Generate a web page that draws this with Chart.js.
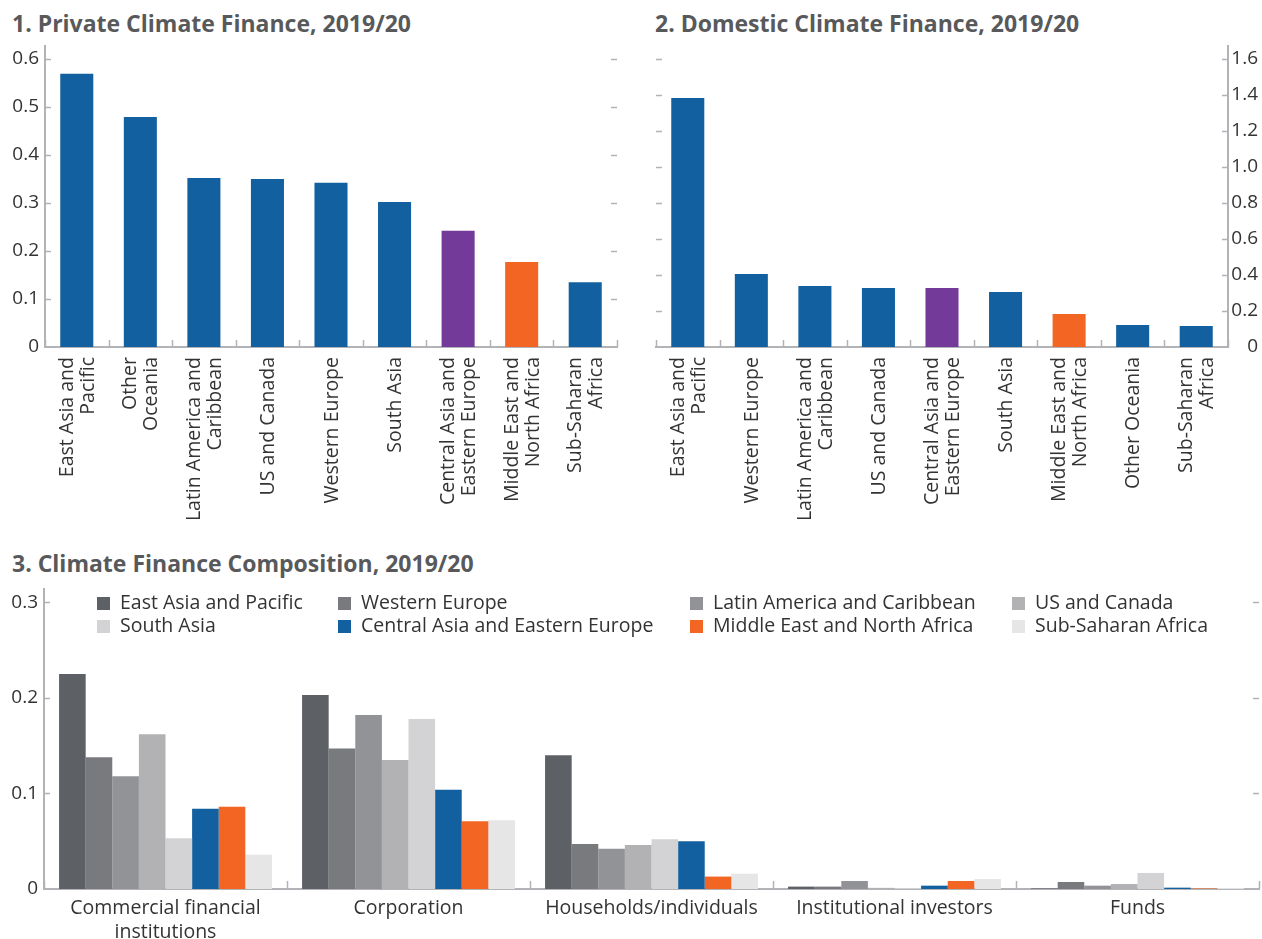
<!DOCTYPE html>
<html>
<head>
<meta charset="utf-8">
<title>Climate Finance, 2019/20</title>
<script src="https://cdn.jsdelivr.net/npm/chart.js@4.4.1/dist/chart.umd.min.js"></script>
<style>
    body { margin: 0; width: 1262px; height: 939px; background: #fff; font-family: "Open Sans", sans-serif; position: relative; overflow: hidden; }
    .title { position: absolute; font-weight: 700; font-size: 23px; line-height: 23px; color: #58595b; white-space: nowrap; }
    .panel { position: absolute; }
    #legend { position: absolute; left: 97px; top: 590px; display: grid; grid-template-columns: 241px 352px 322px auto; font-size: 19.5px; line-height: 23px; color: #333; }
    #legend span.sw { display: inline-block; width: 13px; height: 13px; margin-right: 10px; vertical-align: -1px; }
</style>
</head>
<body>
<div class="title" style="left:12px; top:12px;">1. Private Climate Finance, 2019/20</div>
<div class="title" style="left:655px; top:12px;">2. Domestic Climate Finance, 2019/20</div>
<div class="title" style="left:12px; top:552px;">3. Climate Finance Composition, 2019/20</div>

<div class="panel" style="left:0; top:40px; width:630px; height:500px;"><canvas id="privateChart" width="630" height="500"></canvas></div>
<div class="panel" style="left:640px; top:40px; width:622px; height:500px;"><canvas id="domesticChart" width="622" height="500"></canvas></div>
<div class="panel" style="left:0; top:580px; width:1262px; height:359px;"><canvas id="compositionChart" width="1262" height="359"></canvas></div>
<div id="legend"></div>

<script>
    // Panel 1: private climate finance by region
    const privateRegions = [['East Asia and', 'Pacific'], ['Other', 'Oceania'], ['Latin America and', 'Caribbean'], 'US and Canada',
        'Western Europe', 'South Asia', ['Central Asia and', 'Eastern Europe'], ['Middle East and', 'North Africa'], ['Sub-Saharan', 'Africa']];
    const privateValues = [0.569, 0.479, 0.352, 0.350, 0.342, 0.302, 0.242, 0.177, 0.135];
    const privateTicks = [0, 0.1, 0.2, 0.3, 0.4, 0.5, 0.6];

    // Panel 2: domestic climate finance by region
    const domesticRegions = [['East Asia and', 'Pacific'], 'Western Europe', ['Latin America and', 'Caribbean'], 'US and Canada',
        ['Central Asia and', 'Eastern Europe'], 'South Asia', ['Middle East and', 'North Africa'], 'Other Oceania', ['Sub-Saharan', 'Africa']];
    const domesticValues = [1.383, 0.405, 0.339, 0.328, 0.328, 0.306, 0.183, 0.122, 0.117];
    const domesticTicks = [0, 0.2, 0.4, 0.6, 0.8, 1.0, 1.2, 1.4, 1.6];

    // Panel 3: composition by source, one series per region
    const sources = [['Commercial financial', 'institutions'], 'Corporation', 'Households/individuals', 'Institutional investors', 'Funds'];
    const compositionRegions = ['East Asia and Pacific', 'Western Europe', 'Latin America and Caribbean', 'US and Canada',
        'South Asia', 'Central Asia and Eastern Europe', 'Middle East and North Africa', 'Sub-Saharan Africa'];
    const eastAsiaPacific = [0.225, 0.203, 0.140, 0.0025, 0.0006];
    const westernEurope = [0.138, 0.147, 0.047, 0.0025, 0.0073];
    const latinAmericaCaribbean = [0.118, 0.182, 0.042, 0.0084, 0.0035];
    const usCanada = [0.162, 0.135, 0.046, 0.0012, 0.0052];
    const southAsia = [0.053, 0.178, 0.052, 0.0010, 0.0168];
    const centralAsiaEasternEurope = [0.084, 0.104, 0.050, 0.0035, 0.0014];
    const middleEastNorthAfrica = [0.086, 0.071, 0.013, 0.0084, 0.0005];
    const subSaharanAfrica = [0.036, 0.072, 0.016, 0.0105, 0.0010];
    const compositionTicks = [0, 0.1, 0.2, 0.3];

    const BLUE = '#12609f';
    const PURPLE = '#733a99';
    const ORANGE = '#f26522';
    const AXIS = '#b1b3b6';
    const TEXT = '#333333';
    const FONT = '"Open Sans", sans-serif';
    const highlight = { 'Central Asia and Eastern Europe': PURPLE, 'Middle East and North Africa': ORANGE };
    const compositionColors = ['#5d6166', '#797a7e', '#929396', '#b2b1b3', '#d3d3d5', BLUE, ORANGE, '#e6e6e7'];

    Chart.defaults.font.family = FONT;
    Chart.defaults.color = TEXT;

    const joinLabel = l => Array.isArray(l) ? l.join(' ') : l;
    const fmt = v => v === 0 ? '0' : v.toFixed(1);

    // inward tick marks on both sides and short stubs at category boundaries
    const axisMarks = {
        id: 'axisMarks',
        afterDraw(chart) {
            const { ctx, chartArea: { left, right, bottom }, scales: { x, y } } = chart;
            const opts = chart.options.plugins.axisMarks;
            ctx.save();
            ctx.strokeStyle = AXIS;
            ctx.lineWidth = 1.5;
            ctx.beginPath();
            opts.ticks.forEach(v => {
                if (v === 0) return;
                const py = Math.round(y.getPixelForValue(v)) + 0.5;
                ctx.moveTo(left, py); ctx.lineTo(left + 6, py);
                ctx.moveTo(right, py); ctx.lineTo(right - 6, py);
            });
            const n = chart.data.labels.length;
            for (let i = 0; i <= n; i++) {
                const px = Math.round(x.getPixelForValue(i - 0.5)) + 0.5;
                ctx.moveTo(px, bottom); ctx.lineTo(px, bottom - opts.stub);
            }
            ctx.stroke();
            ctx.restore();
        }
    };

    // vertical category labels, each block centred on its bar
    const verticalLabels = {
        id: 'verticalLabels',
        afterDraw(chart) {
            const { ctx, chartArea: { bottom }, scales: { x } } = chart;
            const lineHeight = 21;
            ctx.save();
            ctx.font = '19.5px ' + FONT;
            ctx.fillStyle = TEXT;
            ctx.textAlign = 'right';
            ctx.textBaseline = 'middle';
            chart.data.labels.forEach((label, i) => {
                const lines = Array.isArray(label) ? label : [label];
                const cx = x.getPixelForValue(i);
                lines.forEach((line, j) => {
                    ctx.save();
                    ctx.translate(cx + (j - (lines.length - 1) / 2) * lineHeight, bottom + 10);
                    ctx.rotate(-Math.PI / 2);
                    ctx.fillText(line, 0, 1);
                    ctx.restore();
                });
            });
            ctx.restore();
        }
    };

    function yScale(max, ticks, position, width, align) {
        return {
            position: position,
            min: 0,
            max: max,
            afterBuildTicks: s => { s.ticks = ticks.map(v => ({ value: v })); },
            afterFit: s => { s.width = width; s.paddingTop = 0; s.paddingBottom = 0; },
            grid: { display: false, drawTicks: false },
            border: { display: true, color: AXIS, width: 2 },
            ticks: { font: { size: 19 }, color: TEXT, padding: position === 'right' ? 4 : 6, crossAlign: align, callback: v => fmt(v) }
        };
    }

    function regionChart(canvasId, regions, values, max, ticks, yPosition, yWidth, padding) {
        const ctx = document.getElementById(canvasId).getContext('2d');
        return new Chart(ctx, {
            type: 'bar',
            data: {
                labels: regions,
                datasets: [{
                    data: values,
                    backgroundColor: regions.map(r => highlight[joinLabel(r)] || BLUE),
                    categoryPercentage: 1,
                    barPercentage: 0.52
                }]
            },
            options: {
                responsive: false,
                animation: false,
                layout: { padding: padding },
                plugins: { legend: { display: false }, tooltip: { enabled: false }, axisMarks: { ticks: ticks, stub: 7 } },
                scales: {
                    x: {
                        afterFit: s => { s.height = 193; },
                        grid: { display: false, drawTicks: false },
                        border: { display: true, color: AXIS, width: 2 },
                        ticks: { display: false }
                    },
                    y: yScale(max, ticks, yPosition, yWidth, yPosition === 'right' ? 'far' : 'near')
                }
            },
            plugins: [axisMarks, verticalLabels]
        });
    }

    regionChart('privateChart', privateRegions, privateValues, 0.627, privateTicks, 'left', 45,
        { left: 0, right: 13, top: 6, bottom: 0 });
    regionChart('domesticChart', domesticRegions, domesticValues, 1.672, domesticTicks, 'right', 30,
        { left: 16, right: 4, top: 6, bottom: 0 });

    const compositionSeries = [eastAsiaPacific, westernEurope, latinAmericaCaribbean, usCanada,
        southAsia, centralAsiaEasternEurope, middleEastNorthAfrica, subSaharanAfrica];

    new Chart(document.getElementById('compositionChart').getContext('2d'), {
        type: 'bar',
        data: {
            labels: sources,
            datasets: compositionSeries.map((values, i) => ({
                label: compositionRegions[i],
                data: values,
                backgroundColor: compositionColors[i],
                categoryPercentage: 0.876,
                barPercentage: 1
            }))
        },
        options: {
            responsive: false,
            animation: false,
            layout: { padding: { left: 0, right: 3, top: 9, bottom: 0 } },
            plugins: { legend: { display: false }, tooltip: { enabled: false }, axisMarks: { ticks: compositionTicks, stub: 8 } },
            scales: {
                x: {
                    afterFit: s => { s.height = 50; },
                    grid: { display: false, drawTicks: false },
                    border: { display: true, color: AXIS, width: 2 },
                    ticks: { font: { size: 19.5, lineHeight: 1.2 }, color: TEXT, padding: 8, maxRotation: 0 }
                },
                y: yScale(0.314, compositionTicks, 'left', 44, 'near')
            }
        },
        plugins: [axisMarks]
    });

    // legend for panel 3, filled row by row
    const legend = document.getElementById('legend');
    compositionRegions.forEach((name, i) => {
        const item = document.createElement('div');
        item.innerHTML = '<span class="sw" style="background:' + compositionColors[i] + '"></span>' + name;
        legend.appendChild(item);
    });
</script>
</body>
</html>
